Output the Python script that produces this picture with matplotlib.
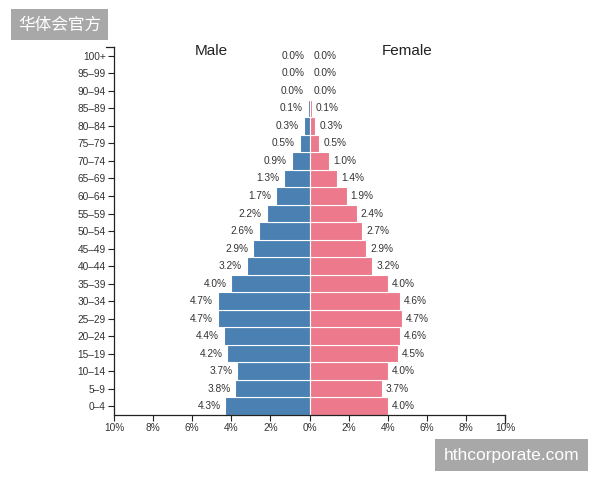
import matplotlib.pyplot as plt
import numpy as np

plt.rcParams['font.family'] = ['Liberation Sans', 'Noto Sans CJK SC']

MALE_C = '#4a80b2'
FEMALE_C = '#ed7a8c'
TEXT = '#333333'

ages = ['0–4', '5–9', '10–14', '15–19', '20–24', '25–29', '30–34', '35–39',
        '40–44', '45–49', '50–54', '55–59', '60–64', '65–69', '70–74', '75–79',
        '80–84', '85–89', '90–94', '95–99', '100+']
male = [4.3, 3.8, 3.7, 4.2, 4.4, 4.7, 4.7, 4.0, 3.2, 2.9, 2.6, 2.2, 1.7, 1.3,
        0.9, 0.5, 0.3, 0.1, 0.03, 0.0, 0.0]
female = [4.0, 3.7, 4.0, 4.5, 4.6, 4.7, 4.6, 4.0, 3.2, 2.9, 2.7, 2.4, 1.9, 1.4,
          1.0, 0.5, 0.3, 0.1, 0.03, 0.0, 0.0]
xticks = [-10, -8, -6, -4, -2, 0, 2, 4, 6, 8, 10]

fig = plt.figure(figsize=(6, 4.8), dpi=100, facecolor='white')
ax = fig.add_axes([0.19, 0.1354, 0.652, 0.7666])

y = np.arange(len(ages))
ax.barh(y, [-v for v in male], height=1.0, color=MALE_C, edgecolor='white', linewidth=0.8)
ax.barh(y, female, height=1.0, color=FEMALE_C, edgecolor='white', linewidth=0.8)

for i in range(len(ages)):
    ax.text(-male[i] - 0.25, i, f'{male[i]:.1f}%', ha='right', va='center', fontsize=7.3, color=TEXT)
    ax.text(female[i] + 0.2, i, f'{female[i]:.1f}%', ha='left', va='center', fontsize=7.3, color=TEXT)

ax.set_xlim(-10, 10)
ax.set_ylim(-0.5, len(ages) - 0.5)
ax.set_xticks(xticks)
ax.set_xticklabels([f'{abs(t)}%' for t in xticks], fontsize=7.3, color=TEXT)
ax.set_yticks(y)
ax.set_yticklabels(ages, fontsize=7.3, color=TEXT)
ax.tick_params(axis='both', length=4, width=0.8, color='#222222', pad=2)

for s in ['top', 'right']:
    ax.spines[s].set_visible(False)
for s in ['left', 'bottom']:
    ax.spines[s].set_color('#222222')
    ax.spines[s].set_linewidth(0.9)

# outer end ticks of the axes
ax.plot([-10.4, -10], [len(ages) - 0.5] * 2, color='#222222', lw=0.9, clip_on=False)
ax.plot([10, 10], [-0.5, -0.95], color='#222222', lw=0.9, clip_on=False)

ax.text(-5, 20.3, 'Male', ha='center', va='center', fontsize=11, color='#222222')
ax.text(5, 20.3, 'Female', ha='center', va='center', fontsize=11, color='#222222')

# watermarks
fig.text(0.03, 0.948, '华体会官方', fontsize=12, color='white', va='center', ha='left',
         family=['Noto Sans CJK SC'],
         bbox=dict(boxstyle='square,pad=0.42', facecolor='#a8a8a8', edgecolor='none'))
fig.text(0.74, 0.052, 'hthcorporate.com', fontsize=12.5, color='white', va='center', ha='left',
         bbox=dict(boxstyle='square,pad=0.5', facecolor='#a8a8a8', edgecolor='none'))

fig.savefig('out.png', dpi=100, facecolor='white')
